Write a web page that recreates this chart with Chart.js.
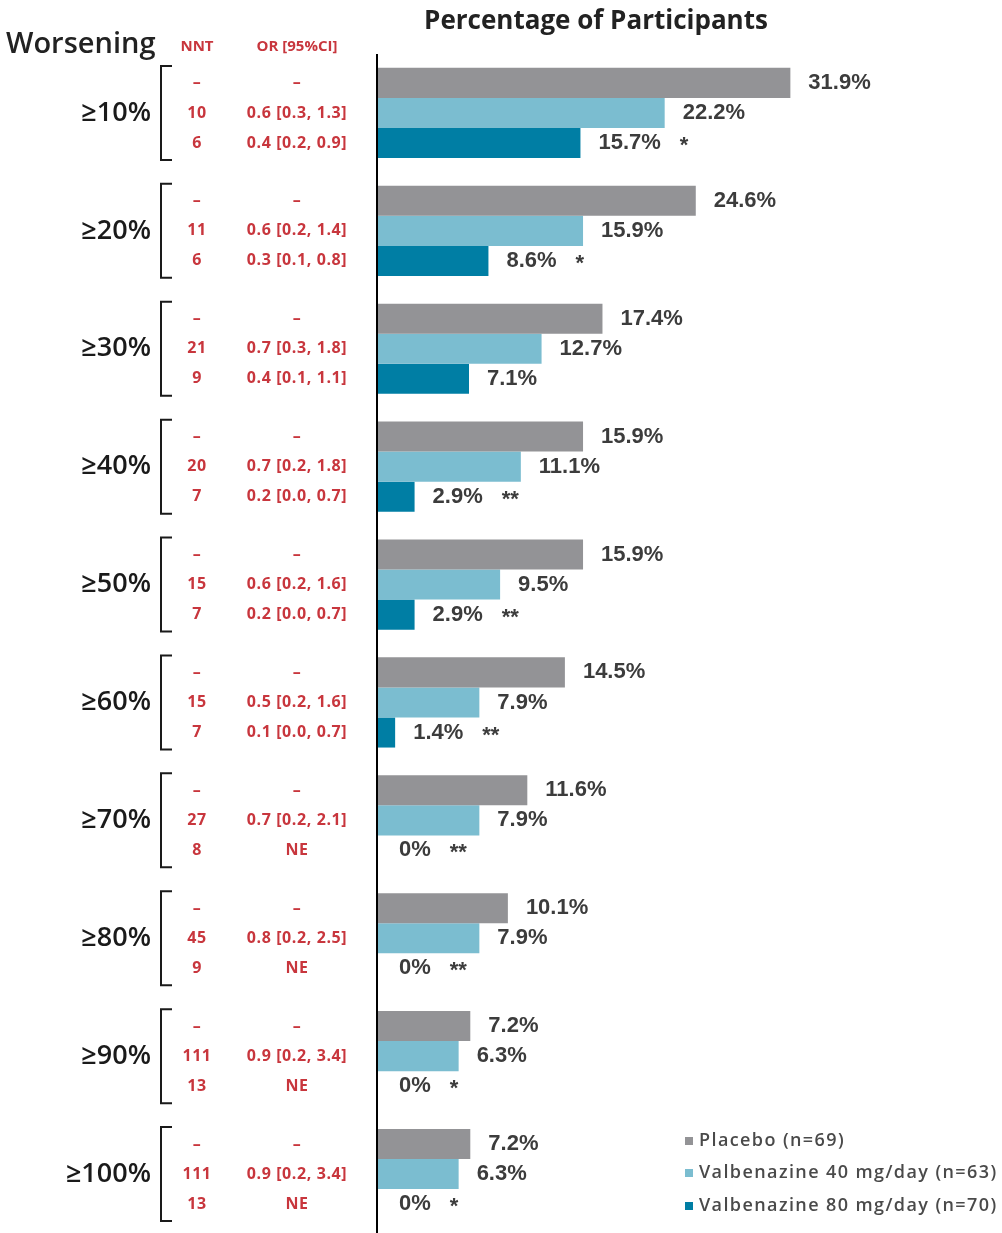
<!DOCTYPE html>
<html>
<head>
<meta charset="utf-8">
<script src="https://cdn.jsdelivr.net/npm/chart.js@4.4.1/dist/chart.umd.min.js"></script>
<style>
  html, body { margin: 0; padding: 0; background: #fff; }
  #wrap { width: 1002px; height: 1233px; }
</style>
</head>
<body>
<div id="wrap"><canvas id="worseningChart" width="1002" height="1233"></canvas></div>
<script>
// categories and values
const categories = ["≥10%", "≥20%", "≥30%", "≥40%", "≥50%", "≥60%", "≥70%", "≥80%", "≥90%", "≥100%"];
const placebo = [31.9, 24.6, 17.4, 15.9, 15.9, 14.5, 11.6, 10.1, 7.2, 7.2];
const vbz40 = [22.2, 15.9, 12.7, 11.1, 9.5, 7.9, 7.9, 7.9, 6.3, 6.3];
const vbz80 = [15.7, 8.6, 7.1, 2.9, 2.9, 1.4, 0, 0, 0, 0];
const sig80 = ["*", "*", "", "**", "**", "**", "**", "**", "*", "*"];
const nnt40 = ["10", "11", "21", "20", "15", "15", "27", "45", "111", "111"];
const nnt80 = ["6", "6", "9", "7", "7", "7", "8", "9", "13", "13"];
const or40 = ["0.6 [0.3, 1.3]", "0.6 [0.2, 1.4]", "0.7 [0.3, 1.8]", "0.7 [0.2, 1.8]", "0.6 [0.2, 1.6]",
  "0.5 [0.2, 1.6]", "0.7 [0.2, 2.1]", "0.8 [0.2, 2.5]", "0.9 [0.2, 3.4]", "0.9 [0.2, 3.4]"];
const or80 = ["0.4 [0.2, 0.9]", "0.3 [0.1, 0.8]", "0.4 [0.1, 1.1]", "0.2 [0.0, 0.7]", "0.2 [0.0, 0.7]",
  "0.1 [0.0, 0.7]", "NE", "NE", "NE", "NE"];

const RED = "#c8363d";

// left-hand table, value labels, axis line, title and legend
const annotate = {
  id: "annotate",
  afterDatasetsDraw(chart) {
    const ctx = chart.ctx;
    const area = chart.chartArea;
    const yScale = chart.scales.y;
    ctx.save();

    // axis line
    ctx.strokeStyle = "#000";
    ctx.lineWidth = 2;
    ctx.beginPath();
    ctx.moveTo(area.left, area.top);
    ctx.lineTo(area.left, area.bottom);
    ctx.stroke();

    // title and headers
    ctx.fillStyle = "#222";
    ctx.textBaseline = "middle";
    ctx.textAlign = "center";
    ctx.font = "bold 26px 'Open Sans'";
    ctx.fillText("Percentage of Participants", 596, 22);
    ctx.textAlign = "left";
    ctx.font = "600 29px 'Open Sans'";
    ctx.fillText("Worsening", 6, 45);
    ctx.fillStyle = RED;
    ctx.textAlign = "center";
    ctx.font = "bold 15px 'Open Sans'";
    ctx.fillText("NNT", 197, 47);
    ctx.fillText("OR [95%CI]", 297, 47);

    const metas = [0, 1, 2].map((i) => chart.getDatasetMeta(i));

    categories.forEach((cat, i) => {
      const yc = yScale.getPixelForValue(i);
      // category label
      ctx.fillStyle = "#1a1a1a";
      ctx.textAlign = "right";
      ctx.letterSpacing = "0px";
      ctx.font = "600 27px 'Open Sans'";
      ctx.fillText(cat, 151, yc);
      // bracket
      ctx.strokeStyle = "#1a1a1a";
      ctx.lineWidth = 2;
      ctx.beginPath();
      ctx.moveTo(172, yc - 47);
      ctx.lineTo(161, yc - 47);
      ctx.lineTo(161, yc + 47);
      ctx.lineTo(172, yc + 47);
      ctx.stroke();
      // NNT / OR rows
      const rows = [["–", "–"], [nnt40[i], or40[i]], [nnt80[i], or80[i]]];
      ctx.fillStyle = RED;
      ctx.textAlign = "center";
      ctx.font = "bold 16px 'Open Sans'";
      ctx.letterSpacing = "0.6px";
      rows.forEach((r, k) => {
        const y = metas[k].data[i].y;
        ctx.fillText(r[0], 197, y);
        ctx.fillText(r[1], 297, y);
      });
    });

    // value labels
    ctx.letterSpacing = "0px";
    ctx.font = "bold 22px 'Liberation Sans'";
    ctx.fillStyle = "#3c3c3c";
    ctx.textAlign = "left";
    chart.data.datasets.forEach((ds, d) => {
      metas[d].data.forEach((el, i) => {
        const v = ds.data[i];
        const txt = v === 0 ? "0%" : v.toFixed(1) + "%";
        const x = el.x + (v === 0 ? 22 : 18);
        ctx.fillText(txt, x, el.y);
        if (d === 2 && sig80[i]) {
          const w = ctx.measureText(txt).width;
          ctx.fillText(sig80[i], x + w + 19, el.y + 3);
        }
      });
    });

    // legend
    ctx.font = "600 18px 'Open Sans'";
    ctx.letterSpacing = "1.4px";
    const legY = [1141, 1173, 1206];
    chart.data.datasets.forEach((ds, d) => {
      ctx.fillStyle = ds.backgroundColor;
      ctx.fillRect(685, legY[d] - 4, 8, 8);
      ctx.fillStyle = "#4a4a4a";
      ctx.fillText(ds.label, 699, legY[d]);
    });
    ctx.restore();
  }
};

new Chart(document.getElementById("worseningChart"), {
  type: "bar",
  data: {
    labels: categories,
    datasets: [
      { label: "Placebo (n=69)", data: placebo, backgroundColor: "#939396" },
      { label: "Valbenazine 40 mg/day (n=63)", data: vbz40, backgroundColor: "#7bbdd0" },
      { label: "Valbenazine 80 mg/day (n=70)", data: vbz80, backgroundColor: "#007ea4" }
    ]
  },
  options: {
    indexAxis: "y",
    responsive: false,
    animation: false,
    layout: { padding: { left: 377, right: 3, top: 54, bottom: 0 } },
    datasets: { bar: { categoryPercentage: 0.765, barPercentage: 1 } },
    plugins: {
      legend: { display: false },
      tooltip: { enabled: false }
    },
    scales: {
      x: { display: false, min: 0, max: 48 },
      y: { display: false }
    }
  },
  plugins: [annotate]
});
</script>
</body>
</html>
